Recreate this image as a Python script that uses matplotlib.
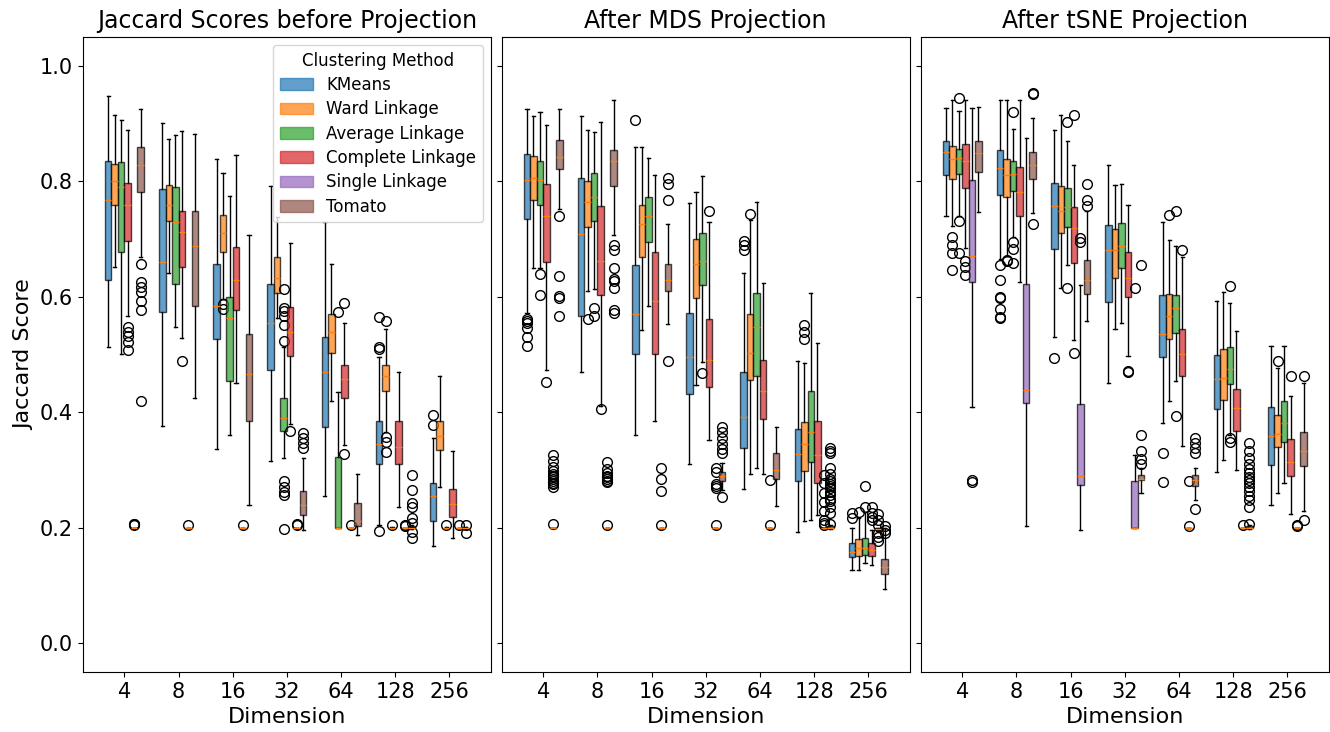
import numpy as np
import matplotlib
matplotlib.use("Agg")
import matplotlib.pyplot as plt
from matplotlib.patches import Patch

dims = [4, 8, 16, 32, 64, 128, 256]
methods = ["KMeans", "Ward Linkage", "Average Linkage", "Complete Linkage",
           "Single Linkage", "Tomato"]
colors = ["tab:blue", "tab:orange", "tab:green", "tab:red", "tab:purple", "tab:brown"]
titles = ["Jaccard Scores before Projection", "After MDS Projection", "After tSNE Projection"]

# rows = methods (same order as above), columns = dims
# ---- before projection
raw_lo = [[0.512, 0.376, 0.336, 0.315, 0.255, 0.205, 0.168],
          [0.652, 0.641, 0.595, 0.563, 0.419, 0.365, 0.270],
          [0.500, 0.548, 0.360, 0.321, 0.2, 0.199, 0.199],
          [0.567, 0.529, 0.450, 0.380, 0.343, 0.235, 0.182],
          [0.2, 0.2, 0.2, 0.2, 0.2, 0.2, 0.2],
          [0.668, 0.424, 0.240, 0.196, 0.187, 0.198, 0.197]]
raw_q1 = [[0.629, 0.574, 0.527, 0.473, 0.374, 0.311, 0.212],
          [0.758, 0.731, 0.678, 0.606, 0.503, 0.436, 0.334],
          [0.677, 0.621, 0.454, 0.367, 0.2, 0.2, 0.2],
          [0.697, 0.651, 0.577, 0.497, 0.424, 0.310, 0.218],
          [0.2, 0.2, 0.2, 0.2, 0.2, 0.2, 0.2],
          [0.781, 0.583, 0.384, 0.222, 0.203, 0.2, 0.198]]
raw_med = [[0.768, 0.660, 0.583, 0.555, 0.469, 0.345, 0.254],
           [0.801, 0.759, 0.710, 0.632, 0.538, 0.462, 0.359],
           [0.790, 0.730, 0.563, 0.390, 0.2, 0.2, 0.2],
           [0.758, 0.711, 0.629, 0.538, 0.458, 0.340, 0.241],
           [0.2, 0.2, 0.2, 0.2, 0.2, 0.2, 0.2],
           [0.827, 0.688, 0.466, 0.240, 0.212, 0.2, 0.199]]
raw_q3 = [[0.834, 0.786, 0.656, 0.621, 0.530, 0.385, 0.278],
          [0.830, 0.793, 0.742, 0.668, 0.570, 0.482, 0.385],
          [0.833, 0.790, 0.600, 0.425, 0.322, 0.2, 0.2],
          [0.797, 0.749, 0.686, 0.582, 0.482, 0.384, 0.267],
          [0.2, 0.2, 0.2, 0.2, 0.2, 0.2, 0.2],
          [0.859, 0.749, 0.535, 0.264, 0.242, 0.202, 0.2]]
raw_hi = [[0.947, 0.901, 0.838, 0.792, 0.729, 0.495, 0.356],
          [0.915, 0.873, 0.814, 0.738, 0.657, 0.544, 0.462],
          [0.905, 0.879, 0.775, 0.513, 0.435, 0.201, 0.201],
          [0.889, 0.886, 0.845, 0.693, 0.554, 0.469, 0.333],
          [0.2, 0.2, 0.2, 0.2, 0.2, 0.2, 0.2],
          [0.925, 0.881, 0.707, 0.320, 0.292, 0.204, 0.201]]
raw_fl = [[[], [], [], [], [], [0.564, 0.513, 0.510, 0.195], [0.395, 0.377]],
          [[], [], [0.588, 0.578], [], [], [0.557, 0.357, 0.349, 0.331], []],
          [[], [], [], [0.613, 0.58, 0.575, 0.567, 0.55, 0.523, 0.28, 0.27, 0.262, 0.257, 0.197],
           [0.574], [0.205], [0.205]],
          [[0.547, 0.538, 0.531, 0.522, 0.508], [0.488], [], [0.368], [0.589, 0.328], [], []],
          [[0.204, 0.206, 0.207], [0.205], [0.205], [0.205, 0.206], [0.205], [0.205, 0.203], [0.205]],
          [[0.656, 0.625, 0.616, 0.608, 0.593, 0.577, 0.420], [], [], [0.363, 0.356, 0.346, 0.338], [],
           [0.291, 0.265, 0.243, 0.236, 0.217, 0.208, 0.192, 0.182], [0.205, 0.191]]]

# ---- after MDS
mds_lo = [[0.572, 0.469, 0.361, 0.310, 0.267, 0.193, 0.126],
          [0.649, 0.610, 0.542, 0.447, 0.293, 0.212, 0.126],
          [0.649, 0.613, 0.584, 0.486, 0.304, 0.213, 0.138],
          [0.473, 0.411, 0.384, 0.352, 0.293, 0.222, 0.135],
          [0.2, 0.2, 0.2, 0.2, 0.2, 0.2, 0.195],
          [0.752, 0.707, 0.553, 0.265, 0.238, 0.198, 0.094]]
mds_q1 = [[0.734, 0.567, 0.501, 0.431, 0.337, 0.280, 0.149],
          [0.768, 0.721, 0.668, 0.597, 0.456, 0.298, 0.151],
          [0.758, 0.731, 0.694, 0.620, 0.462, 0.313, 0.152],
          [0.660, 0.602, 0.501, 0.444, 0.388, 0.278, 0.151],
          [0.2, 0.2, 0.2, 0.2, 0.2, 0.2, 0.196],
          [0.821, 0.792, 0.610, 0.281, 0.285, 0.2, 0.120]]
mds_med = [[0.802, 0.708, 0.569, 0.496, 0.391, 0.328, 0.158],
           [0.806, 0.763, 0.726, 0.656, 0.503, 0.345, 0.164],
           [0.802, 0.772, 0.739, 0.662, 0.547, 0.366, 0.164],
           [0.740, 0.662, 0.593, 0.491, 0.437, 0.325, 0.161],
           [0.2, 0.2, 0.2, 0.2, 0.2, 0.2, 0.197],
           [0.841, 0.835, 0.629, 0.289, 0.299, 0.2, 0.132]]
mds_q3 = [[0.847, 0.805, 0.654, 0.571, 0.469, 0.370, 0.173],
          [0.844, 0.801, 0.759, 0.700, 0.570, 0.383, 0.180],
          [0.834, 0.814, 0.772, 0.710, 0.606, 0.436, 0.182],
          [0.795, 0.756, 0.677, 0.561, 0.491, 0.385, 0.174],
          [0.2, 0.2, 0.2, 0.2, 0.2, 0.2, 0.199],
          [0.872, 0.853, 0.657, 0.296, 0.329, 0.202, 0.146]]
mds_hi = [[0.925, 0.912, 0.859, 0.762, 0.640, 0.488, 0.199],
          [0.912, 0.889, 0.859, 0.781, 0.733, 0.485, 0.217],
          [0.920, 0.885, 0.840, 0.808, 0.764, 0.606, 0.227],
          [0.897, 0.903, 0.811, 0.729, 0.623, 0.520, 0.196],
          [0.2, 0.2, 0.2, 0.2, 0.2, 0.2, 0.2],
          [0.925, 0.940, 0.726, 0.312, 0.374, 0.204, 0.199]]
mds_fl = [[[0.562, 0.558, 0.554, 0.545, 0.530, 0.515], [], [0.906], [], [0.696, 0.689, 0.681], [],
           [0.225, 0.217]],
          [[], [0.561], [], [], [0.743], [0.550, 0.538, 0.527], [0.227]],
          [[0.639, 0.602], [0.581, 0.566], [], [0.467], [], [], [0.272, 0.236]],
          [[0.452], [0.405], [], [0.748], [], [], [0.236, 0.226, 0.219, 0.213]],
          [[0.325, 0.315, 0.305, 0.298, 0.293, 0.290, 0.287, 0.284, 0.281, 0.278, 0.275, 0.271, 0.206],
           [0.313, 0.302, 0.295, 0.290, 0.287, 0.284, 0.281, 0.279, 0.205],
           [0.303, 0.284, 0.264, 0.205],
           [0.303, 0.296, 0.275, 0.272, 0.269, 0.205],
           [0.283, 0.205],
           [0.291, 0.277, 0.260, 0.244, 0.229, 0.213, 0.208, 0.205],
           [0.224, 0.213, 0.205, 0.190, 0.183, 0.177]],
          [[0.740, 0.636, 0.601, 0.598, 0.567],
           [0.689, 0.681, 0.649, 0.631, 0.627, 0.615, 0.577, 0.572],
           [0.805, 0.795, 0.768, 0.488],
           [0.374, 0.366, 0.355, 0.345, 0.336, 0.330, 0.253],
           [],
           [0.338, 0.333, 0.329, 0.303, 0.293, 0.285, 0.280, 0.276, 0.272, 0.268, 0.262, 0.256,
            0.250, 0.246, 0.236, 0.226, 0.206],
           [0.203, 0.196, 0.190]]]

# ---- after tSNE
tsne_lo = [[0.739, 0.665, 0.530, 0.450, 0.382, 0.296, 0.239],
           [0.722, 0.670, 0.615, 0.544, 0.420, 0.317, 0.260],
           [0.740, 0.704, 0.655, 0.554, 0.454, 0.360, 0.278],
           [0.685, 0.626, 0.524, 0.497, 0.341, 0.299, 0.223],
           [0.408, 0.202, 0.196, 0.2, 0.2, 0.2, 0.2],
           [0.746, 0.744, 0.557, 0.260, 0.247, 0.198, 0.228]]
tsne_q1 = [[0.811, 0.776, 0.682, 0.590, 0.496, 0.405, 0.309],
           [0.804, 0.773, 0.710, 0.632, 0.527, 0.421, 0.339],
           [0.812, 0.782, 0.720, 0.650, 0.537, 0.449, 0.349],
           [0.788, 0.739, 0.659, 0.600, 0.462, 0.367, 0.289],
           [0.626, 0.416, 0.274, 0.2, 0.2, 0.2, 0.2],
           [0.815, 0.804, 0.605, 0.282, 0.272, 0.2, 0.306]]
tsne_med = [[0.851, 0.823, 0.756, 0.681, 0.535, 0.457, 0.359],
            [0.839, 0.810, 0.749, 0.680, 0.566, 0.459, 0.362],
            [0.840, 0.813, 0.755, 0.687, 0.580, 0.475, 0.381],
            [0.834, 0.781, 0.719, 0.632, 0.500, 0.407, 0.313],
            [0.670, 0.438, 0.290, 0.2, 0.2, 0.2, 0.2],
            [0.848, 0.828, 0.629, 0.285, 0.282, 0.2, 0.332]]
tsne_q3 = [[0.870, 0.853, 0.797, 0.724, 0.603, 0.499, 0.408],
           [0.860, 0.839, 0.792, 0.717, 0.604, 0.509, 0.395],
           [0.855, 0.835, 0.788, 0.727, 0.602, 0.512, 0.420],
           [0.864, 0.824, 0.755, 0.678, 0.544, 0.440, 0.353],
           [0.802, 0.622, 0.414, 0.281, 0.2, 0.2, 0.2],
           [0.869, 0.850, 0.664, 0.291, 0.291, 0.203, 0.366]]
tsne_hi = [[0.927, 0.940, 0.888, 0.828, 0.729, 0.593, 0.514],
           [0.941, 0.940, 0.915, 0.794, 0.698, 0.608, 0.476],
           [0.921, 0.890, 0.870, 0.795, 0.687, 0.589, 0.514],
           [0.941, 0.940, 0.828, 0.759, 0.668, 0.540, 0.428],
           [0.927, 0.875, 0.620, 0.326, 0.2, 0.2, 0.2],
           [0.928, 0.909, 0.748, 0.304, 0.304, 0.205, 0.451]]
tsne_fl = [[[], [0.655, 0.628, 0.599, 0.597, 0.579, 0.565, 0.563], [0.494], [], [0.330, 0.279], [], []],
           [[0.704, 0.689, 0.675, 0.646], [0.664, 0.661], [], [], [0.742], [], [0.489]],
           [[0.943, 0.731, 0.675], [0.920, 0.694, 0.683, 0.658], [0.902, 0.615], [], [0.749, 0.393],
            [0.619, 0.355, 0.349], []],
           [[0.661, 0.652, 0.638], [], [0.914, 0.502], [0.472, 0.469], [0.681], [], [0.462]],
           [[0.282, 0.279], [], [0.702, 0.694], [0.615], [0.280, 0.202], [0.205], [0.205, 0.203]],
           [[], [0.953, 0.950, 0.726], [0.795, 0.767, 0.757], [0.654, 0.361, 0.332, 0.318, 0.311],
            [0.355, 0.346, 0.338, 0.330, 0.233],
            [0.347, 0.333, 0.320, 0.311, 0.302, 0.295, 0.288, 0.282, 0.277, 0.271, 0.264, 0.254,
             0.247, 0.235, 0.207],
            [0.462, 0.214]]]

panels = [(raw_lo, raw_q1, raw_med, raw_q3, raw_hi, raw_fl),
          (mds_lo, mds_q1, mds_med, mds_q3, mds_hi, mds_fl),
          (tsne_lo, tsne_q1, tsne_med, tsne_q3, tsne_hi, tsne_fl)]

box_w = 0.12
x = np.arange(len(dims))

fig = plt.figure(figsize=(13.3, 7.32), dpi=100)
W, H = 1330.0, 732.0
lefts = [82.7, 501.5, 920.5]
axes = []
for l in lefts:
    ax = fig.add_axes([l / W, 60 / H, 408.5 / W, 635.3 / H],
                      sharey=axes[0] if axes else None)
    axes.append(ax)

for ax, title, (lo, q1, med, q3, hi, fl) in zip(axes, titles, panels):
    for j, (m, c) in enumerate(zip(methods, colors)):
        stats = []
        for i in range(len(dims)):
            stats.append(dict(whislo=lo[j][i], q1=q1[j][i], med=med[j][i],
                              q3=q3[j][i], whishi=hi[j][i], fliers=fl[j][i]))
        pos = x + (j - 2.5) * box_w
        res = ax.bxp(stats, positions=pos, widths=box_w, patch_artist=True,
                     manage_ticks=False,
                     boxprops=dict(edgecolor="black", linewidth=1.0),
                     medianprops=dict(color="C1", linewidth=1.0),
                     flierprops=dict(marker="o", markersize=7,
                                     markerfacecolor="none",
                                     markeredgecolor="black"))
        for b in res["boxes"]:
            b.set_facecolor(c)
            b.set_alpha(0.7)
    ax.set_xticks(x)
    ax.set_xticklabels([str(d) for d in dims], fontsize=15)
    ax.set_xlim(-0.77, 6.77)
    ax.set_xlabel("Dimension", fontsize=16)
    ax.set_title(title, fontsize=17)
    ax.tick_params(axis="y", labelsize=15)

axes[0].set_ylim(-0.05, 1.05)
axes[0].set_yticks([0.0, 0.2, 0.4, 0.6, 0.8, 1.0])
axes[0].set_ylabel("Jaccard Score", fontsize=16)
for ax in axes[1:]:
    ax.tick_params(axis="y", labelleft=False)

handles = [Patch(facecolor=c, edgecolor=c, alpha=0.7) for c in colors]
axes[0].legend(handles, methods, title="Clustering Method", loc="upper right",
               fontsize=12, title_fontsize=12, labelspacing=0.38)

fig.savefig("out.png", dpi=100)
